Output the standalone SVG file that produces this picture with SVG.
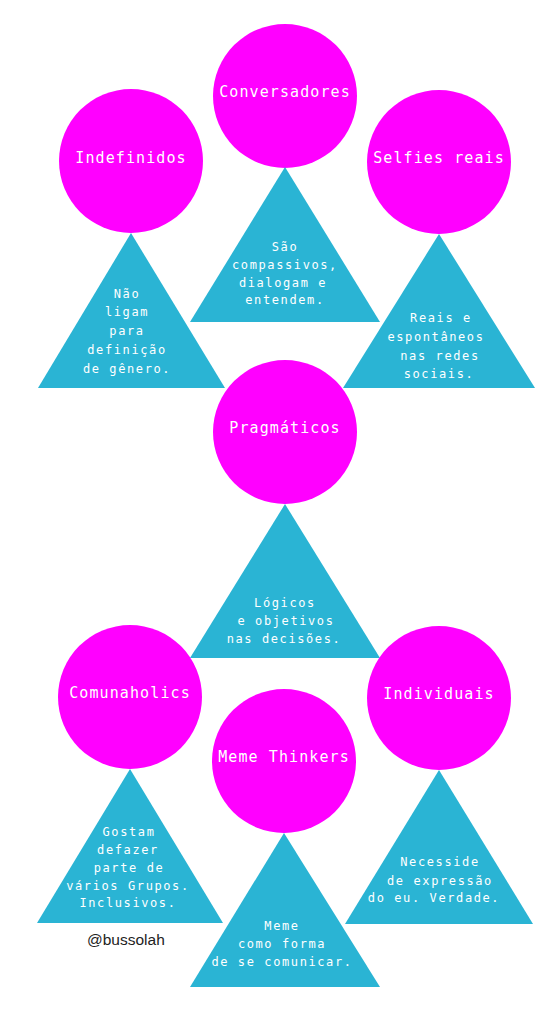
<svg xmlns="http://www.w3.org/2000/svg" width="560" height="1023" viewBox="0 0 560 1023">
<style>
.c{fill:#ff00ff}
.t{fill:#2ab4d4}
.h{font-family:"DejaVu Sans Mono","Liberation Mono",monospace;font-size:15px;letter-spacing:1.1px;fill:#ffffff;text-anchor:middle}
.b{font-family:"DejaVu Sans Mono","Liberation Mono",monospace;font-size:12px;letter-spacing:1.6px;fill:#ffffff;text-anchor:middle}
.s{font-family:"Liberation Sans",Arial,sans-serif;font-size:15.5px;fill:#222222}
</style>
<rect width="560" height="1023" fill="#ffffff"/>

<g id="conversadores">
<circle class="c" cx="285" cy="96" r="72"/>
<polygon class="t" points="285,167 380,322 190,322"/>
<text class="h" x="285" y="97">Conversadores</text>
<text class="b" x="285" y="251">São</text>
<text class="b" x="285" y="269">compassivos,</text>
<text class="b" x="283" y="287">dialogam e</text>
<text class="b" x="285" y="304">entendem.</text>
</g>

<g id="indefinidos">
<circle class="c" cx="131" cy="161" r="72"/>
<polygon class="t" points="131,233 225,388 38,388"/>
<text class="h" x="131" y="163">Indefinidos</text>
<text class="b" x="127" y="298">Não</text>
<text class="b" x="127" y="316">ligam</text>
<text class="b" x="127" y="335">para</text>
<text class="b" x="127" y="354">definição</text>
<text class="b" x="127" y="373">de gênero.</text>
</g>

<g id="selfies">
<circle class="c" cx="439" cy="162" r="72"/>
<polygon class="t" points="439,234 535,388 343,388"/>
<text class="h" x="439" y="163">Selfies reais</text>
<text class="b" x="441" y="322">Reais e</text>
<text class="b" x="436" y="341">espontâneos</text>
<text class="b" x="440" y="360">nas redes</text>
<text class="b" x="439" y="378">sociais.</text>
</g>

<g id="pragmaticos">
<circle class="c" cx="285" cy="432" r="72"/>
<polygon class="t" points="285,504 380,658 190,658"/>
<text class="h" x="285" y="433">Pragmáticos</text>
<text class="b" x="285" y="607">Lógicos</text>
<text class="b" x="286" y="625">e objetivos</text>
<text class="b" x="284" y="643">nas decisões.</text>
</g>

<g id="comunaholics">
<circle class="c" cx="130" cy="697" r="72"/>
<polygon class="t" points="130,769 223,923 37,923"/>
<text class="h" x="130" y="698">Comunaholics</text>
<text class="b" x="129" y="836">Gostam</text>
<text class="b" x="128" y="854">defazer</text>
<text class="b" x="129" y="872">parte de</text>
<text class="b" x="128" y="890">vários Grupos.</text>
<text class="b" x="128" y="907">Inclusivos.</text>
</g>

<g id="individuais">
<circle class="c" cx="439" cy="698" r="72"/>
<polygon class="t" points="439,770 533,924 345,924"/>
<text class="h" x="439" y="699">Individuais</text>
<text class="b" x="440" y="866">Necesside</text>
<text class="b" x="440" y="885">de expressão</text>
<text class="b" x="434" y="902">do eu. Verdade.</text>
</g>

<g id="meme-thinkers">
<circle class="c" cx="284" cy="761" r="72"/>
<polygon class="t" points="284,833 380,987 190,987"/>
<text class="h" x="284" y="762">Meme Thinkers</text>
<text class="b" x="282" y="930">Meme</text>
<text class="b" x="282" y="948">como forma</text>
<text class="b" x="282" y="966">de se comunicar.</text>
</g>

<g id="credit">
<text class="s" x="87" y="945">@bussolah</text>
</g>
</svg>
